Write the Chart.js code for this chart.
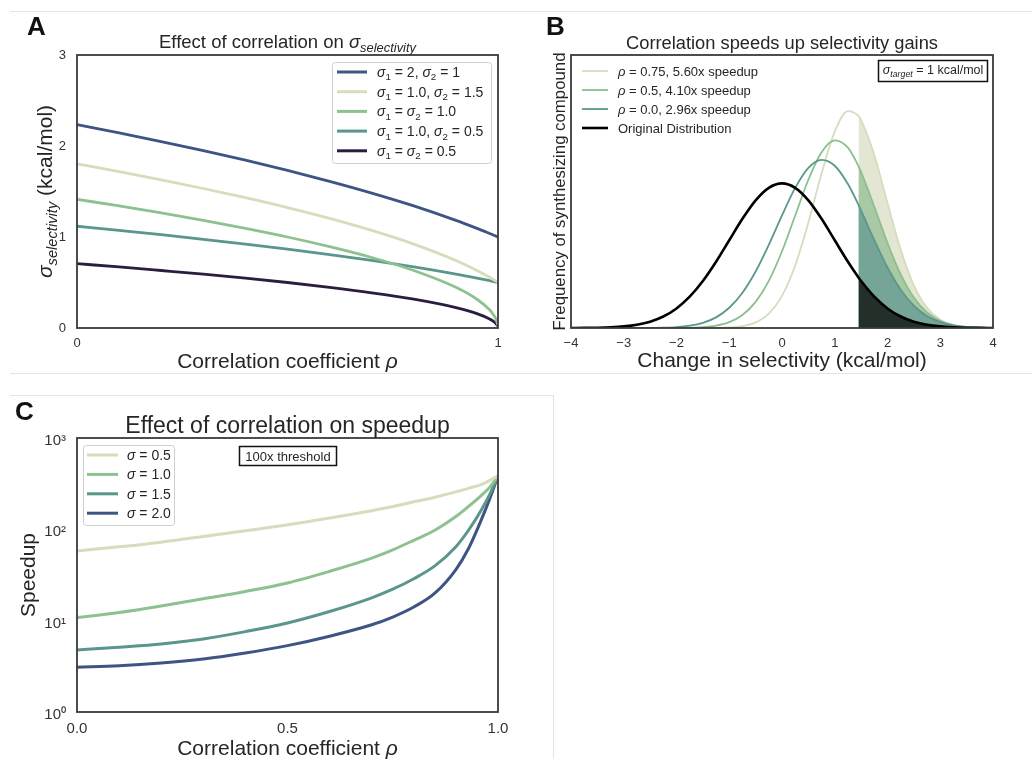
<!DOCTYPE html>
<html>
<head>
<meta charset="utf-8">
<script src="https://cdn.jsdelivr.net/npm/chart.js@4.4.1/dist/chart.umd.min.js"></script>
<style>
  html, body { margin: 0; padding: 0; background: #fff; }
  body { width: 1032px; height: 759px; position: relative; overflow: hidden; }
  canvas { position: absolute; }
  .rule { position: absolute; background: #e4e4e4; }
</style>
</head>
<body>
<div class="rule" style="left:10px;top:11px;width:1022px;height:1px"></div>
<div class="rule" style="left:10px;top:373px;width:1022px;height:1px"></div>
<div class="rule" style="left:10px;top:395px;width:543px;height:1px"></div>
<div class="rule" style="left:553px;top:395px;width:1px;height:364px"></div>
<canvas id="chartA" width="520" height="374" style="left:0;top:0"></canvas>
<canvas id="chartB" width="512" height="374" style="left:520px;top:0"></canvas>
<canvas id="chartC" width="552" height="363" style="left:0;top:396px"></canvas>
<script>
// ---------- Panel A: sigma_selectivity vs correlation ----------
const aRho      = [0, 0.1, 0.2, 0.3, 0.4, 0.5, 0.6, 0.7, 0.8, 0.9, 0.95, 0.98, 0.99, 0.995, 1];
const sel_2_1   = [2.236, 2.145, 2.049, 1.949, 1.844, 1.732, 1.612, 1.483, 1.342, 1.183, 1.095, 1.039, 1.020, 1.010, 1.0];
const sel_1_15  = [1.803, 1.718, 1.628, 1.533, 1.432, 1.323, 1.204, 1.072, 0.922, 0.742, 0.632, 0.557, 0.529, 0.515, 0.5];
const sel_1_1   = [1.414, 1.342, 1.265, 1.183, 1.095, 1.0, 0.894, 0.775, 0.632, 0.447, 0.316, 0.2, 0.141, 0.1, 0.03];
const sel_1_05  = [1.118, 1.072, 1.025, 0.975, 0.922, 0.866, 0.806, 0.742, 0.671, 0.592, 0.548, 0.520, 0.510, 0.505, 0.5];
const sel_05_05 = [0.707, 0.671, 0.632, 0.592, 0.548, 0.5, 0.447, 0.387, 0.316, 0.224, 0.158, 0.1, 0.071, 0.05, 0.02];
const aNames    = ['σ_1 = 2, σ_2 = 1', 'σ_1 = 1.0, σ_2 = 1.5', 'σ_1 = σ_2 = 1.0', 'σ_1 = 1.0, σ_2 = 0.5', 'σ_1 = σ_2 = 0.5'];
const aTicksY   = [0, 1, 2, 3];

// ---------- Panel B: distributions of selectivity change ----------
const bX      = [-4, -3.75, -3.5, -3.25, -3, -2.75, -2.5, -2.25, -2, -1.75, -1.5, -1.25, -1, -0.75, -0.5, -0.25, 0,
                 0.25, 0.5, 0.75, 1, 1.25, 1.45, 1.5, 1.75, 2, 2.25, 2.5, 2.75, 3, 3.25, 3.5, 3.75, 4];
const bOrig   = [0.00013, 0.00035, 0.00087, 0.00203, 0.00443, 0.00909, 0.01753, 0.03174, 0.05399, 0.08628, 0.12952, 0.18265,
                 0.24197, 0.30114, 0.35207, 0.38667, 0.39894, 0.38667, 0.35207, 0.30114, 0.24197, 0.18265, 0.13943, 0.12952,
                 0.08628, 0.05399, 0.03174, 0.01753, 0.00909, 0.00443, 0.00203, 0.00087, 0.00035, 0.00013];
const bRho00  = [0, 0, 0.000002, 0.00001, 0.00003, 0.00011, 0.00034, 0.00097, 0.00259, 0.00634, 0.01423, 0.02939,
                 0.05580, 0.09730, 0.15597, 0.22958, 0.31071, 0.38638, 0.44157, 0.46375, 0.44758, 0.39696, 0.33935, 0.32354,
                 0.24234, 0.16681, 0.10551, 0.06134, 0.03276, 0.01608, 0.00726, 0.00301, 0.00115, 0.00040];
const bRho05  = [0, 0, 0, 0, 0, 0.000003, 0.00001, 0.00006, 0.00023, 0.00077, 0.00234, 0.00647,
                 0.01604, 0.03581, 0.07196, 0.13010, 0.21177, 0.31016, 0.40883, 0.48497, 0.51772, 0.49740, 0.44648, 0.43005,
                 0.33460, 0.23435, 0.14767, 0.08375, 0.04274, 0.01964, 0.00812, 0.00302, 0.00101, 0.00030];
const bRho075 = [0, 0, 0, 0, 0, 0, 0, 0, 0.000003, 0.00002, 0.00008, 0.00038,
                 0.00152, 0.00518, 0.01539, 0.03968, 0.08876, 0.17248, 0.29096, 0.42614, 0.54184, 0.59821, 0.58484, 0.57338,
                 0.47712, 0.34474, 0.21623, 0.11776, 0.05570, 0.02286, 0.00815, 0.00252, 0.00068, 0.00016];
const bNames  = ['ρ = 0.75, 5.60x speedup', 'ρ = 0.5, 4.10x speedup', 'ρ = 0.0, 2.96x speedup', 'Original Distribution'];
const THRESHOLD = 1.45;
const bTicksX = [-4, -3, -2, -1, 0, 1, 2, 3, 4];

// ---------- Panel C: speedup vs correlation ----------
const cRho   = [0, 0.1, 0.2, 0.3, 0.4, 0.5, 0.6, 0.7, 0.75, 0.8, 0.85, 0.9, 0.93, 0.96, 0.98, 1];
const cSig05 = [58, 64.3, 72.4, 83.4, 96.4, 112, 133, 160, 178, 200, 225, 257, 281, 309, 343, 385];
const cSig10 = [10.8, 12.3, 14.5, 17.4, 20.9, 25.9, 34.7, 48.4, 59.6, 75.9, 97.7, 138, 178, 234, 288, 385];
const cSig15 = [4.78, 5.13, 5.56, 6.31, 7.59, 9.44, 12.6, 17.8, 22.1, 28.8, 39.8, 64.6, 97.7, 162, 240, 385];
const cSig20 = [3.09, 3.20, 3.43, 3.80, 4.42, 5.33, 6.76, 9.02, 10.96, 14.1, 20.0, 36.3, 61.7, 126, 214, 385];
const cNames = ['σ = 0.5', 'σ = 1.0', 'σ = 1.5', 'σ = 2.0'];
const cTicksY = [1, 10, 100, 1000];

// ---------- shared styling ----------
const FONT = '"Liberation Sans", Arial, Helvetica, sans-serif';
const INK = '#262626';
const NAVY = '#3e5483', PALE = '#d6ddbd', GREEN = '#8dc190', TEAL = '#5a968c', DARK = '#2b1d3f';
Chart.defaults.font.family = FONT;
Chart.defaults.color = '#333';

const pts = (xs, ys) => xs.map((x, i) => ({ x, y: ys[i] }));

// Tiny mathtext-like renderer: Greek letters italic, "_x" / "_{...}" subscripts.
function parseRich(s) {
  const out = [];
  let i = 0;
  while (i < s.length) {
    const c = s[i];
    if (c === '_') {
      let sub;
      if (s[i + 1] === '{') { const j = s.indexOf('}', i); sub = s.slice(i + 2, j); i = j + 1; }
      else { sub = s[i + 1]; i += 2; }
      out.push({ t: sub, sub: true, it: /[a-z]/i.test(sub) });
    } else if ('σρ'.includes(c)) {
      out.push({ t: c, it: true }); i++;
    } else {
      let j = i;
      while (j < s.length && s[j] !== '_' && !'σρ'.includes(s[j])) j++;
      out.push({ t: s.slice(i, j) }); i = j;
    }
  }
  return out;
}
function segFont(seg, size) {
  const sz = seg.sub ? size * 0.7 : size;
  return (seg.it ? 'italic ' : '') + sz.toFixed(1) + 'px ' + FONT;
}
function drawRich(ctx, str, x, y, size, align, color) {
  const segs = parseRich(str);
  let w = 0;
  for (const s of segs) { ctx.font = segFont(s, size); w += ctx.measureText(s.t).width; }
  let cx = align === 'center' ? x - w / 2 : align === 'right' ? x - w : x;
  ctx.save();
  ctx.fillStyle = color || INK;
  ctx.textBaseline = 'alphabetic';
  ctx.textAlign = 'left';
  for (const s of segs) {
    ctx.font = segFont(s, size);
    ctx.fillText(s.t, cx, y + (s.sub ? size * 0.24 : 0));
    cx += ctx.measureText(s.t).width;
  }
  ctx.restore();
}
function drawRotated(ctx, str, x, y, size) {
  ctx.save();
  ctx.translate(x, y);
  ctx.rotate(-Math.PI / 2);
  drawRich(ctx, str, 0, 0, size, 'center');
  ctx.restore();
}
function frame(chart) {
  const a = chart.chartArea, c = chart.ctx;
  c.save();
  c.strokeStyle = '#3a3a3a';
  c.lineWidth = 1.8;
  c.strokeRect(a.left, a.top, a.right - a.left, a.bottom - a.top);
  c.restore();
}
function roundBox(ctx, x, y, w, h, r, stroke, lw, fill) {
  ctx.save();
  ctx.beginPath();
  ctx.roundRect(x, y, w, h, r);
  if (fill) { ctx.fillStyle = fill; ctx.fill(); }
  ctx.strokeStyle = stroke; ctx.lineWidth = lw; ctx.stroke();
  ctx.restore();
}
function legendRows(ctx, names, colors, widths, x0, x1, tx, y0, dy, size) {
  names.forEach((n, i) => {
    const y = y0 + i * dy;
    ctx.save();
    ctx.strokeStyle = colors[i]; ctx.lineWidth = widths[i];
    ctx.beginPath(); ctx.moveTo(x0, y); ctx.lineTo(x1, y); ctx.stroke();
    ctx.restore();
    drawRich(ctx, n, tx, y + size * 0.36, size, 'left');
  });
}
function letter(ctx, ch, x, y) {
  ctx.save();
  ctx.font = 'bold 26px ' + FONT;
  ctx.fillStyle = '#111';
  ctx.textBaseline = 'alphabetic';
  ctx.fillText(ch, x, y);
  ctx.restore();
}
function baseOptions(pad) {
  return {
    responsive: false, animation: false, events: [],
    layout: { padding: pad, autoPadding: false },
    plugins: { legend: { display: false }, tooltip: { enabled: false } },
    elements: { point: { radius: 0 }, line: { cubicInterpolationMode: 'monotone' } }
  };
}
const noGrid = { display: false, drawTicks: false };

// ---------- Chart A ----------
const aColors = [NAVY, PALE, GREEN, TEAL, DARK];
const aSeries = [sel_2_1, sel_1_15, sel_1_1, sel_1_05, sel_05_05];
new Chart(document.getElementById('chartA'), {
  type: 'line',
  data: {
    datasets: aSeries.map((s, i) => ({
      label: aNames[i], data: pts(aRho, s),
      borderColor: aColors[i], borderWidth: 2.8, fill: false
    }))
  },
  options: Object.assign(baseOptions({ left: 0, top: 55, right: 22, bottom: 0 }), {
    scales: {
      x: {
        type: 'linear', min: 0, max: 1,
        grid: noGrid, border: { display: false },
        ticks: { stepSize: 1, padding: 8, maxRotation: 0, font: { size: 13 }, color: '#333' },
        afterFit: s => { s.height = 46; }
      },
      y: {
        type: 'linear', min: 0, max: 3,
        grid: noGrid, border: { display: false },
        afterBuildTicks: s => { s.ticks = aTicksY.map(v => ({ value: v })); },
        ticks: { padding: 11, font: { size: 13 }, color: '#333' },
        afterFit: s => { s.width = 77; }
      }
    }
  }),
  plugins: [{
    id: 'decoA',
    afterDraw(chart) {
      const ctx = chart.ctx, a = chart.chartArea;
      frame(chart);
      const cx = (a.left + a.right) / 2;
      letter(ctx, 'A', 27, 35);
      drawRich(ctx, 'Effect of correlation on σ_{selectivity}', cx, 48, 18.5, 'center');
      drawRich(ctx, 'Correlation coefficient ρ', cx, 368, 21, 'center');
      drawRotated(ctx, 'σ_{selectivity} (kcal/mol)', 52, (a.top + a.bottom) / 2, 21);
      roundBox(ctx, 332.5, 62.5, 159, 101, 3, '#cfcfcf', 1, 'rgba(255,255,255,0.85)');
      legendRows(ctx, aNames, aColors, [3, 3, 3, 3, 3], 337, 367, 377, 72, 19.7, 14);
    }
  }]
});

// ---------- Chart B ----------
const bLineColors = [PALE, '#8cbf8e', '#5b978d', '#000000'];
const bFillColors = ['#e2e6d3', '#a9c9a5', '#75a596', '#232f29'];
const bSeries = [bRho075, bRho05, bRho00, bOrig];
const tail = (ys) => pts(bX, ys).filter(p => p.x >= THRESHOLD);
const bDatasets = [];
bSeries.forEach((s, i) => {
  bDatasets.push({
    label: bNames[i] + ' (tail)', data: tail(s), order: 20 - i,
    borderWidth: 0, borderColor: 'rgba(0,0,0,0)', backgroundColor: bFillColors[i], fill: 'origin'
  });
});
bSeries.forEach((s, i) => {
  bDatasets.push({
    label: bNames[i], data: pts(bX, s), order: 10 - i,
    borderColor: bLineColors[i], borderWidth: i === 3 ? 2.6 : 1.8, fill: false
  });
});
new Chart(document.getElementById('chartB'), {
  type: 'line',
  data: { datasets: bDatasets },
  options: Object.assign(baseOptions({ left: 51, top: 55, right: 39, bottom: 0 }), {
    scales: {
      x: {
        type: 'linear', min: -4, max: 4,
        grid: noGrid, border: { display: false },
        afterBuildTicks: s => { s.ticks = bTicksX.map(v => ({ value: v })); },
        ticks: {
          padding: 8, maxRotation: 0, font: { size: 13 }, color: '#333',
          callback: v => (v < 0 ? '\u2212' + Math.abs(v) : String(v))
        },
        afterFit: s => { s.height = 46; }
      },
      y: { type: 'linear', min: 0, max: 0.753, display: false }
    }
  }),
  plugins: [{
    id: 'decoB',
    afterDraw(chart) {
      const ctx = chart.ctx, a = chart.chartArea;
      frame(chart);
      const cx = (a.left + a.right) / 2;
      letter(ctx, 'B', 26, 35);
      drawRich(ctx, 'Correlation speeds up selectivity gains', cx, 49, 18.3, 'center');
      drawRich(ctx, 'Change in selectivity (kcal/mol)', cx, 367, 21, 'center');
      drawRotated(ctx, 'Frequency of synthesizing compound', 45, (a.top + a.bottom) / 2, 16.8);
      legendRows(ctx, bNames, bLineColors, [1.8, 1.8, 1.8, 2.6], 62, 88, 98, 71, 19, 13);
      ctx.save();
      ctx.strokeStyle = '#111'; ctx.lineWidth = 1.5;
      ctx.strokeRect(358.5, 60.5, 109, 21);
      ctx.restore();
      drawRich(ctx, 'σ_{target} = 1 kcal/mol', 413, 74, 12.5, 'center');
    }
  }]
});

// ---------- Chart C ----------
const cColors = [PALE, GREEN, TEAL, NAVY];
const cSeries = [cSig05, cSig10, cSig15, cSig20];
const SUP = ['\u2070', '\u00b9', '\u00b2', '\u00b3'];
new Chart(document.getElementById('chartC'), {
  type: 'line',
  data: {
    datasets: cSeries.map((s, i) => ({
      label: cNames[i], data: pts(cRho, s),
      borderColor: cColors[i], borderWidth: 3, fill: false
    }))
  },
  options: Object.assign(baseOptions({ left: 0, top: 42, right: 54, bottom: 0 }), {
    scales: {
      x: {
        type: 'linear', min: 0, max: 1,
        grid: noGrid, border: { display: false },
        ticks: { stepSize: 0.5, padding: 8, maxRotation: 0, font: { size: 15 }, color: '#333',
                 callback: v => v.toFixed(1) },
        afterFit: s => { s.height = 47; }
      },
      y: {
        type: 'logarithmic', min: 1, max: 1000,
        grid: noGrid, border: { display: false },
        afterBuildTicks: s => { s.ticks = cTicksY.map(v => ({ value: v })); },
        ticks: { padding: 11, labelOffset: 3, font: { size: 15 }, color: '#333',
                 callback: v => '10' + SUP[Math.round(Math.log10(v))] },
        afterFit: s => { s.width = 77; }
      }
    }
  }),
  plugins: [{
    id: 'decoC',
    afterDraw(chart) {
      const ctx = chart.ctx, a = chart.chartArea;
      frame(chart);
      const cx = (a.left + a.right) / 2;
      letter(ctx, 'C', 15, 24);
      drawRich(ctx, 'Effect of correlation on speedup', cx, 37, 23, 'center');
      drawRich(ctx, 'Correlation coefficient ρ', cx, 359, 21, 'center');
      drawRotated(ctx, 'Speedup', 35, (a.top + a.bottom) / 2, 21);
      roundBox(ctx, 83.5, 49.5, 91, 80, 3, '#cfcfcf', 1, 'rgba(255,255,255,0.85)');
      legendRows(ctx, cNames, cColors, [3, 3, 3, 3], 87, 118, 127, 59, 19.4, 14);
      ctx.save();
      ctx.strokeStyle = '#111'; ctx.lineWidth = 1.5;
      ctx.strokeRect(239.5, 50.5, 97, 19);
      ctx.restore();
      drawRich(ctx, '100x threshold', 288, 64.5, 13, 'center');
    }
  }]
});
</script>
</body>
</html>
